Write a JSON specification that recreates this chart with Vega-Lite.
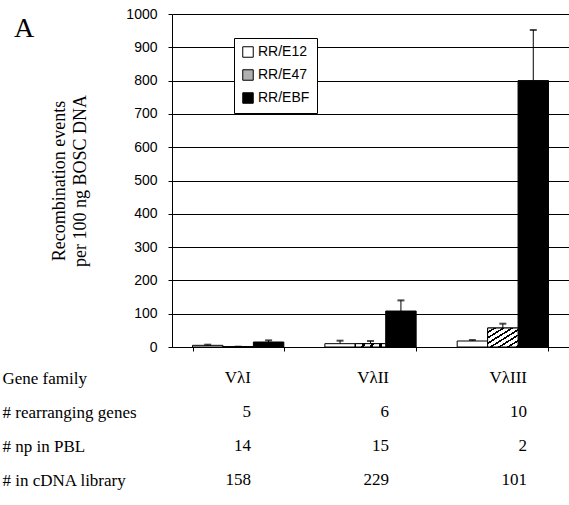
{
  "$schema": "https://vega.github.io/schema/vega-lite/v6.json",
  "padding": {"left": 2, "top": 7, "right": 0, "bottom": 0},
  "title": {"text": "A", "anchor": "start", "frame": "bounds", "font": "Liberation Serif", "fontSize": 28, "fontWeight": "normal", "color": "black", "dx": 12, "dy": 36, "offset": 0},
  "config": {
    "view": {"stroke": null},
    "font": "Liberation Serif",
    "axisQuantitative": {"tickCount": 11, "labelOverlap": false, "format": "d",
      "grid": true, "gridColor": "black", "gridWidth": 1, "gridOpacity": 1,
      "domainColor": "black", "tickColor": "black", "tickSize": 4,
      "labelFont": "Liberation Sans", "labelFontSize": 14, "labelColor": "black", "labelPadding": 11,
      "titleFont": "Liberation Serif", "titleFontSize": 18, "titleFontWeight": "normal", "titleColor": "black", "titlePadding": 36, "titleLineHeight": 21}
  },
  "datasets": {
    "bars": [
      {"family": "VλI", "series": "RR/E12", "value": 5, "hi": 7},
      {"family": "VλI", "series": "RR/E47", "value": 1, "hi": 1},
      {"family": "VλI", "series": "RR/EBF", "value": 15, "hi": 20},
      {"family": "VλII", "series": "RR/E12", "value": 10, "hi": 19},
      {"family": "VλII", "series": "RR/E47", "value": 10, "hi": 18},
      {"family": "VλII", "series": "RR/EBF", "value": 108, "hi": 140},
      {"family": "VλIII", "series": "RR/E12", "value": 18, "hi": 21},
      {"family": "VλIII", "series": "RR/E47", "value": 57, "hi": 70},
      {"family": "VλIII", "series": "RR/EBF", "value": 800, "hi": 952}
    ],
    "table": [
      {"row": "Gene family", "family": "VλI", "text": "VλI"},
      {"row": "Gene family", "family": "VλII", "text": "VλII"},
      {"row": "Gene family", "family": "VλIII", "text": "VλIII"},
      {"row": "# rearranging genes", "family": "VλI", "text": "5"},
      {"row": "# rearranging genes", "family": "VλII", "text": "6"},
      {"row": "# rearranging genes", "family": "VλIII", "text": "10"},
      {"row": "# np in PBL", "family": "VλI", "text": "14"},
      {"row": "# np in PBL", "family": "VλII", "text": "15"},
      {"row": "# np in PBL", "family": "VλIII", "text": "2"},
      {"row": "# in cDNA library", "family": "VλI", "text": "158"},
      {"row": "# in cDNA library", "family": "VλII", "text": "229"},
      {"row": "# in cDNA library", "family": "VλIII", "text": "101"}
    ]
  },
  "spacing": 7,
  "resolve": {"scale": {"x": "independent", "y": "independent"}},
  "vconcat": [
    {
      "width": 397,
      "height": 333,
      "data": {"name": "bars"},
      "encoding": {
        "x": {"field": "family", "type": "nominal", "sort": ["VλI", "VλII", "VλIII"],
          "scale": {"paddingInner": 0.31, "paddingOuter": 0.155},
          "axis": {"labels": false, "title": null, "tickBand": "extent", "domainColor": "black", "tickColor": "black", "tickSize": 4, "grid": false}},
        "xOffset": {"field": "series", "type": "nominal", "sort": ["RR/E12", "RR/E47", "RR/EBF"]}
      },
      "layer": [
        {
          "mark": {"type": "bar", "stroke": "black", "strokeWidth": 1},
          "encoding": {
            "y": {"field": "value", "type": "quantitative", "scale": {"domain": [0, 1000], "nice": false},
              "axis": {"values": [0, 100, 200, 300, 400, 500, 600, 700, 800, 900, 1000], "tickCount": 11,
                "title": ["Recombination events", "per 100 ng BOSC DNA"]}},
            "fill": {
              "field": "series", "type": "nominal",
              "scale": {"domain": ["RR/E12", "RR/E47", "RR/EBF"], "range": ["white", "#b0b0b0", "black"]},
              "legend": {"orient": "none", "legendX": 62, "legendY": 24, "title": null, "strokeColor": "black", "fillColor": "white", "padding": 7,
                "symbolType": "square", "symbolSize": 110, "symbolStrokeColor": "black", "symbolStrokeWidth": 1,
                "labelFont": "Liberation Sans", "labelFontSize": 14, "labelColor": "black", "rowPadding": 7, "labelOffset": 3,
                "encode": {"symbols": {"update": {
                  "stroke": {"value": "black"},
                  "strokeWidth": {"value": 1}
                }}}}
            }
          }
        },
        {
          "transform": [{"filter": "datum.series === 'RR/E47'"}],
          "mark": {"type": "bar", "stroke": "black", "strokeWidth": 1,
            "fill": {"gradient": "linear", "x1": 0, "y1": 0, "x2": 1, "y2": 1, "stops": [
                    {"offset": 0, "color": "white"}, {"offset": 0.093, "color": "white"}, {"offset": 0.093, "color": "black"}, {"offset": 0.143, "color": "black"},
                    {"offset": 0.143, "color": "white"}, {"offset": 0.236, "color": "white"}, {"offset": 0.236, "color": "black"}, {"offset": 0.286, "color": "black"},
                    {"offset": 0.286, "color": "white"}, {"offset": 0.379, "color": "white"}, {"offset": 0.379, "color": "black"}, {"offset": 0.429, "color": "black"},
                    {"offset": 0.429, "color": "white"}, {"offset": 0.522, "color": "white"}, {"offset": 0.522, "color": "black"}, {"offset": 0.571, "color": "black"},
                    {"offset": 0.571, "color": "white"}, {"offset": 0.664, "color": "white"}, {"offset": 0.664, "color": "black"}, {"offset": 0.714, "color": "black"},
                    {"offset": 0.714, "color": "white"}, {"offset": 0.807, "color": "white"}, {"offset": 0.807, "color": "black"}, {"offset": 0.857, "color": "black"},
                    {"offset": 0.857, "color": "white"}, {"offset": 0.95, "color": "white"}, {"offset": 0.95, "color": "black"}, {"offset": 1, "color": "black"}
                  ]}},
          "encoding": {
            "y": {"field": "value", "type": "quantitative"}
          }
        },
        {
          "mark": {"type": "rule", "color": "black", "strokeWidth": 1},
          "encoding": {
            "y": {"field": "value", "type": "quantitative"},
            "y2": {"field": "hi"}
          }
        },
        {
          "mark": {"type": "tick", "color": "black", "size": 7, "thickness": 2, "orient": "horizontal"},
          "encoding": {
            "y": {"field": "hi", "type": "quantitative"}
          }
        }
      ]
    },
    {
      "width": 397,
      "height": 136,
      "data": {"name": "table"},
      "mark": {"type": "text", "align": "right", "baseline": "middle", "font": "Liberation Serif", "fontSize": 17, "color": "black"},
      "encoding": {
        "x": {"field": "family", "type": "nominal", "sort": ["VλI", "VλII", "VλIII"], "scale": {"type": "point", "padding": 0.438, "align": 0.653}, "axis": null},
        "y": {"field": "row", "type": "nominal", "sort": ["Gene family", "# rearranging genes", "# np in PBL", "# in cDNA library"],
          "scale": {"type": "point", "padding": 0.5},
          "axis": {"title": null, "domain": false, "ticks": false, "grid": false, "labelAlign": "left", "labelPadding": 170, "labelBaseline": "middle",
            "labelFont": "Liberation Serif", "labelFontSize": 17, "labelColor": "black", "labelLimit": 200}},
        "text": {"field": "text"}
      }
    }
  ]
}
